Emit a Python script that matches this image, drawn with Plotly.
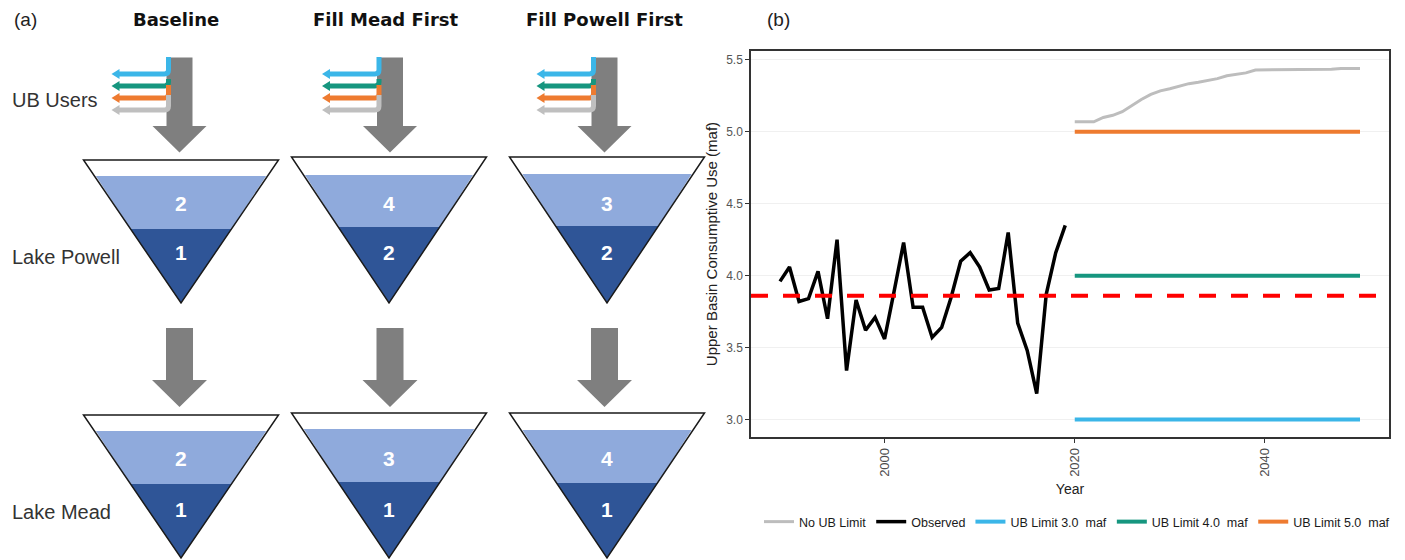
import plotly.graph_objects as go

# ---------------- data: panel (b) ----------------
obs_years = [1989, 1990, 1991, 1992, 1993, 1994, 1995, 1996, 1997, 1998, 1999,
             2000, 2001, 2002, 2003, 2004, 2005, 2006, 2007, 2008, 2009, 2010,
             2011, 2012, 2013, 2014, 2015, 2016, 2017, 2018, 2019]
obs_use = [3.96, 4.06, 3.82, 3.84, 4.03, 3.70, 4.25, 3.34, 3.83, 3.62, 3.71,
           3.56, 3.89, 4.23, 3.78, 3.78, 3.57, 3.64, 3.85, 4.10, 4.16, 4.06,
           3.90, 3.91, 4.30, 3.67, 3.48, 3.18, 3.87, 4.16, 4.35]
proj_years = [2020, 2021, 2022, 2023, 2024, 2025, 2026, 2027, 2028, 2029, 2030,
              2031, 2032, 2033, 2034, 2035, 2036, 2037, 2038, 2039, 2040, 2041,
              2042, 2043, 2044, 2045, 2046, 2047, 2048, 2049, 2050]
no_limit_use = [5.07, 5.07, 5.07, 5.10, 5.115, 5.14, 5.185, 5.225, 5.26, 5.285, 5.30,
                5.32, 5.335, 5.345, 5.355, 5.37, 5.39, 5.40, 5.41, 5.43, 5.43, 5.43,
                5.432, 5.435, 5.435, 5.435, 5.435, 5.435, 5.44, 5.44, 5.44]
limit_years = [2020, 2050]
limit_3 = [3.0, 3.0]
limit_4 = [4.0, 4.0]
limit_5 = [5.0, 5.0]
observed_mean = 3.86
y_ticks = [3.0, 3.5, 4.0, 4.5, 5.0, 5.5]
y_tick_text = ["3.0", "3.5", "4.0", "4.5", "5.0", "5.5"]
x_ticks = [2000, 2020, 2040]
x_tick_text = ["2000", "2020", "2040"]
series_names = ["No UB Limit", "Observed", "UB Limit 3.0  maf", "UB Limit 4.0  maf", "UB Limit 5.0  maf"]
series_colors = ["#BDBDBD", "#000000", "#3BB6E8", "#16967F", "#EE7B30"]

# ---------------- data: panel (a) ----------------
scenarios = ["Baseline", "Fill Mead First", "Fill Powell First"]
powell_upper = ["2", "4", "3"]
powell_lower = ["1", "2", "2"]
mead_upper = ["2", "3", "4"]
mead_lower = ["1", "1", "1"]
row_labels = ["UB Users", "Lake Powell", "Lake Mead"]
user_colors = ["#3BB6E8", "#16967F", "#EE7B30", "#BFBFBF"]

# ---------------- layout helpers (pixel -> paper) ----------------
W, H = 1405, 560
FONT = "Liberation Sans, Arial, sans-serif"


def P(x, y):
    return f"{x / W:.5f},{1 - y / H:.5f}"


def path(points, close=True):
    s = "M " + " L ".join(P(x, y) for x, y in points)
    return s + (" Z" if close else "")


shapes = []
annotations = []

# column geometry
tri_cx = [181, 389, 607]
arrow_cx = [179.5, 390, 604.5]
title_cx = [176, 386, 604]
tri_hw = 97.5
powell_top = [160, 157, 157]
powell_apex = 303
powell_light = [176, 175, 174]
powell_bound = [229, 227, 226]
mead_top = [415, 413, 413]
mead_apex = 558
mead_light = [431, 429, 430]
mead_bound = [484, 482, 483]

LIGHT = "#8FAADC"
DARK = "#2F5597"
ARROW = "#7F7F7F"


def half_width(y, top, apex):
    return tri_hw * (apex - y) / (apex - top)


def reservoir(cx, top, apex, lt, bd, up_txt, low_txt, up_y, low_y):
    shapes.append(dict(type="path", xref="paper", yref="paper",
                       path=path([(cx - tri_hw, top), (cx + tri_hw, top), (cx, apex)]),
                       fillcolor="white", line=dict(width=0)))
    w1 = half_width(lt, top, apex) - 1.5
    w2 = half_width(bd, top, apex)
    shapes.append(dict(type="path", xref="paper", yref="paper",
                       path=path([(cx - w1, lt), (cx + w1, lt), (cx + w2, bd), (cx - w2, bd)]),
                       fillcolor=LIGHT, line=dict(width=0)))
    shapes.append(dict(type="path", xref="paper", yref="paper",
                       path=path([(cx - w2, bd), (cx + w2, bd), (cx, apex)]),
                       fillcolor=DARK, line=dict(width=0)))
    shapes.append(dict(type="path", xref="paper", yref="paper",
                       path=path([(cx - tri_hw, top), (cx + tri_hw, top), (cx, apex)]),
                       fillcolor="rgba(0,0,0,0)", line=dict(color="#1A1A1A", width=1.5)))
    for txt, yy in ((up_txt, up_y), (low_txt, low_y)):
        annotations.append(dict(x=cx / W, y=1 - yy / H, xref="paper", yref="paper",
                                text=f"<b>{txt}</b>", showarrow=False,
                                font=dict(family=FONT, size=21, color="white"),
                                xanchor="center", yanchor="middle"))


def down_arrow(ax, st, hb, tp, sw, hw):
    shapes.append(dict(type="path", xref="paper", yref="paper",
                       path=path([(ax - sw, st), (ax + sw, st), (ax + sw, hb), (ax + hw, hb),
                                  (ax, tp), (ax - hw, hb), (ax - sw, hb)]),
                       fillcolor=ARROW, line=dict(width=0)))


def user_lines(ax):
    vx = ax - 11
    hys = [74, 86, 98, 110]
    v0s = [57, 79, 85, 95]
    tipx = ax - 68
    r = 4
    for col, hy, v0 in zip(user_colors, hys, v0s):
        p = (f"M {P(vx, v0)} L {P(vx, hy - r)} Q {P(vx, hy)} {P(vx - r, hy)} "
             f"L {P(tipx + 6, hy)}")
        shapes.append(dict(type="path", xref="paper", yref="paper", path=p,
                           line=dict(color=col, width=5)))
        shapes.append(dict(type="path", xref="paper", yref="paper",
                           path=path([(tipx, hy), (tipx + 8, hy - 5), (tipx + 8, hy + 5)]),
                           fillcolor=col, line=dict(width=0)))


for i in range(3):
    down_arrow(arrow_cx[i], 57.5, 126, 152.5, 13, 27)
    user_lines(arrow_cx[i])
    down_arrow(arrow_cx[i], 328, 380, 407, 13.5, 27.5)
    reservoir(tri_cx[i], powell_top[i], powell_apex, powell_light[i], powell_bound[i],
              powell_upper[i], powell_lower[i], 203, 253)
    reservoir(tri_cx[i], mead_top[i], mead_apex, mead_light[i], mead_bound[i],
              mead_upper[i], mead_lower[i], 458, 509)
    annotations.append(dict(x=title_cx[i] / W, y=1 - 20 / H, xref="paper", yref="paper",
                            text=f"<b>{scenarios[i]}</b>", showarrow=False,
                            font=dict(family="DejaVu Sans, sans-serif", size=18, color="#111111"),
                            xanchor="center", yanchor="middle"))

for lbl, yy in zip(row_labels, [100, 257, 512]):
    annotations.append(dict(x=10 / W, y=1 - yy / H, xref="paper", yref="paper",
                            text=lbl, showarrow=False,
                            font=dict(family=FONT, size=20, color="#333333"),
                            xanchor="left", yanchor="middle"))

for lbl, xx in (("(a)", 12), ("(b)", 765)):
    annotations.append(dict(x=xx / W, y=1 - 20 / H, xref="paper", yref="paper",
                            text=lbl, showarrow=False,
                            font=dict(family=FONT, size=19, color="#222222"),
                            xanchor="left", yanchor="middle"))

# mean observed line (dashed red)
shapes.append(dict(type="line", xref="x domain", yref="y", x0=0, x1=1,
                   y0=observed_mean, y1=observed_mean,
                   line=dict(color="#FF0000", width=4, dash="17px,15px"), layer="above"))

# ---------------- traces ----------------
fig = go.Figure()
fig.add_trace(go.Scatter(x=proj_years, y=no_limit_use, mode="lines", name=series_names[0],
                         line=dict(color=series_colors[0], width=3)))
fig.add_trace(go.Scatter(x=obs_years, y=obs_use, mode="lines", name=series_names[1],
                         line=dict(color=series_colors[1], width=3.5)))
fig.add_trace(go.Scatter(x=limit_years, y=limit_3, mode="lines", name=series_names[2],
                         line=dict(color=series_colors[2], width=4)))
fig.add_trace(go.Scatter(x=limit_years, y=limit_4, mode="lines", name=series_names[3],
                         line=dict(color=series_colors[3], width=4)))
fig.add_trace(go.Scatter(x=limit_years, y=limit_5, mode="lines", name=series_names[4],
                         line=dict(color=series_colors[4], width=4)))

fig.update_layout(
    width=W, height=H,
    margin=dict(l=0, r=0, t=0, b=0),
    paper_bgcolor="white", plot_bgcolor="white",
    font=dict(family=FONT, color="#222222"),
    showlegend=True,
    legend=dict(orientation="h", x=1077 / W, xanchor="center", y=1 - 522 / H, yanchor="middle",
                font=dict(family=FONT, size=12.5, color="#1A1A1A"), itemwidth=30,
                bgcolor="rgba(0,0,0,0)"),
    xaxis=dict(domain=[751 / W, 1389 / W], range=[1985.95, 2053.05],
               tickvals=x_ticks, ticktext=x_tick_text, tickangle=-90,
               ticks="outside", ticklen=4, tickcolor="#333333",
               tickfont=dict(family=FONT, size=13, color="#4D4D4D"),
               showgrid=False, zeroline=False,
               showline=True, mirror=True, linecolor="#333333", linewidth=1.5,
               title=dict(text="Year", font=dict(family=FONT, size=14, color="#222222"), standoff=8)),
    yaxis=dict(domain=[1 - 437 / H, 1 - 51 / H], range=[2.878, 5.562],
               tickvals=y_ticks, ticktext=y_tick_text,
               ticks="outside", ticklen=4, tickcolor="#333333",
               tickfont=dict(family=FONT, size=12, color="#555555"),
               showgrid=True, gridcolor="#F0F0F0", gridwidth=1, zeroline=False,
               showline=True, mirror=True, linecolor="#333333", linewidth=1.5,
               title=dict(text="Upper Basin Consumptive Use (maf)",
                          font=dict(family=FONT, size=15, color="#222222"), standoff=5)),
    shapes=shapes,
    annotations=annotations,
)

fig.write_html("out.html", config={"displayModeBar": False},
               post_script="document.body.style.margin='0px';")
